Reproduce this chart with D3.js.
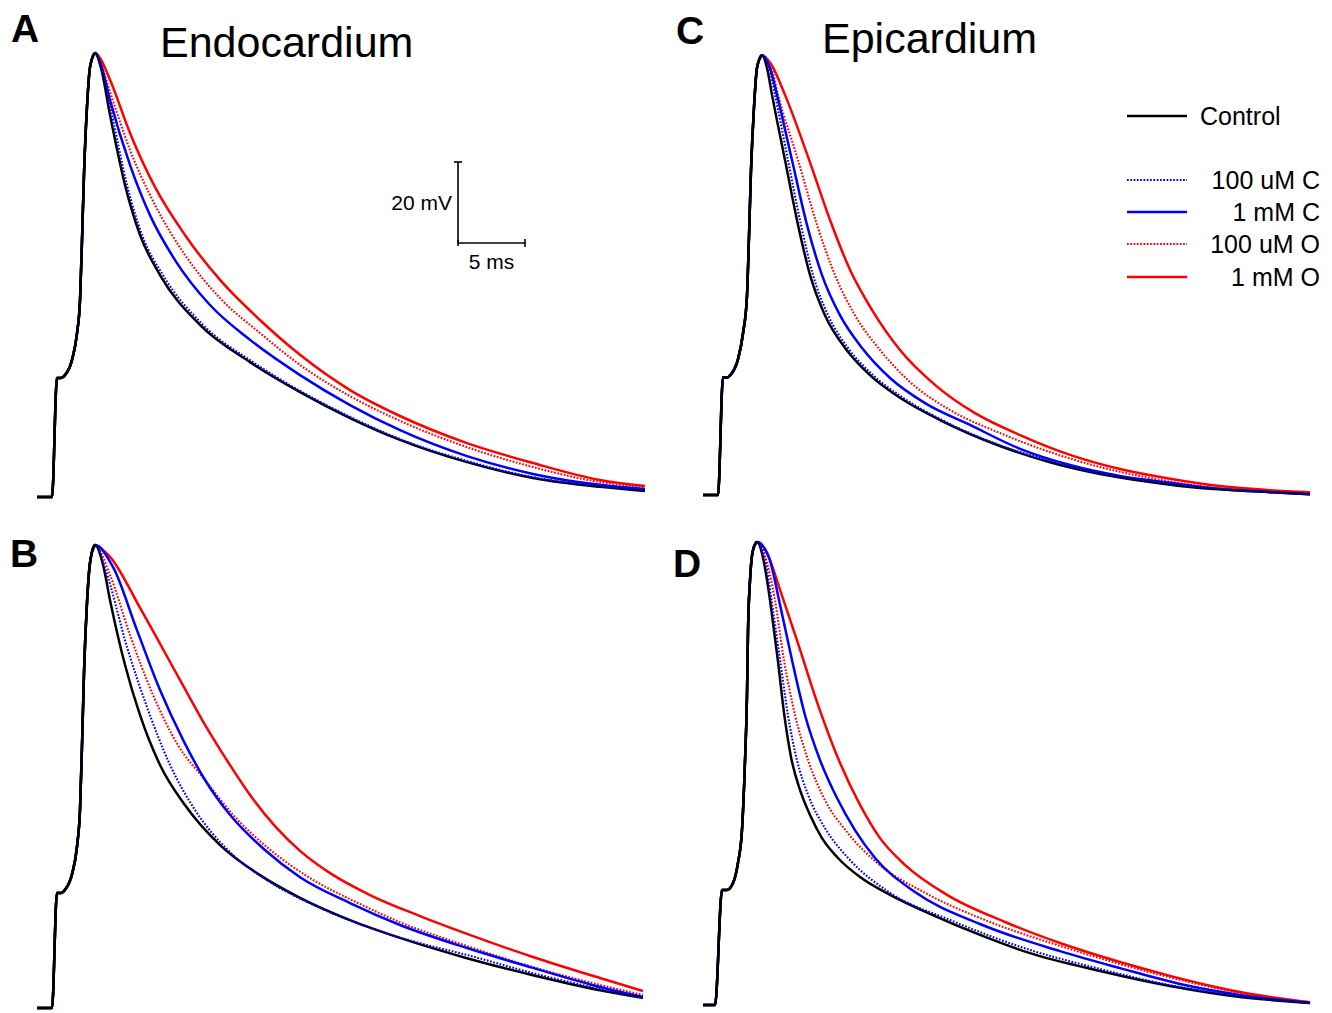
<!DOCTYPE html>
<html>
<head>
<meta charset="utf-8">
<script src="https://cdn.jsdelivr.net/npm/d3@7"></script>
<style>
  body { margin: 0; background: #fff; }
  text { font-family: "Liberation Sans", Arial, sans-serif; fill: #000; }
</style>
</head>
<body>
<svg id="chart"></svg>
<script>
// traces are [time (ms), membrane potential (mV)]
// upstroke is shared by all traces of a panel
const upA = [[0,-85],[1.12,-85],[1.49,-55.6],[1.79,-55.6],[2.09,-54.9],[2.61,-51.2],[2.99,-44.5],[3.21,-36.4],[3.36,-21.5],[3.51,-5.0],[3.73,11.3],[3.96,21.2],[4.33,24.6]];
const upB = [[0,-85],[1.12,-85],[1.49,-56.6],[1.79,-56.6],[2.09,-55.8],[2.61,-52],[2.99,-45],[3.21,-36],[3.36,-20],[3.51,-2],[3.73,15],[3.96,25],[4.33,29.3]];
const upC = [[0,-85],[1.12,-85],[1.49,-56],[1.79,-56],[2.09,-55.2],[2.61,-51.5],[2.99,-45],[3.28,-36],[3.43,-21.5],[3.58,-5],[3.81,11],[4.03,20.5],[4.40,23.6]];
const upD = [[0,-85],[0.9,-85],[1.42,-56.6],[1.79,-56.6],[2.24,-54.9],[2.61,-49.9],[2.91,-41.8],[3.13,-25.2],[3.28,-9.0],[3.36,7.6],[3.51,19.9],[3.73,27.3],[4.03,29.3]];

// A - endocardium
const aControl = [[4.78,20.9],[5.45,9.3],[6.57,-8.0],[7.69,-20.3],[9.18,-30.2],[12.16,-42.5],[15.90,-51.7],[19.63,-59.1],[23.36,-65.5],[27.09,-70.9],[32.09,-76.4],[37.01,-80.3],[42.01,-82.5],[45.37,-83.5]];
const aC100 = [[4.85,20.9],[5.60,9.3],[6.72,-8.0],[7.84,-20.3],[9.40,-30.2],[12.39,-42.5],[16.12,-51.7],[19.63,-58.8],[23.36,-65.2],[27.09,-70.7],[32.09,-76.1],[37.01,-80.1],[42.01,-82.3],[45.37,-83.3]];
const aC1 = [[4.78,21.7],[5.45,13.0],[6.94,-3.0],[8.43,-15.4],[10.30,-26.5],[12.91,-37.6],[15.90,-46.2],[19.63,-54.9],[23.36,-62.3],[27.09,-68.5],[32.09,-74.9],[37.01,-79.3],[42.01,-82.0],[45.37,-83.0]];
const aO100 = [[4.70,22.4],[5.45,15.0],[6.94,0.7],[8.81,-12.9],[11.04,-25.2],[13.66,-35.9],[16.64,-44.5],[19.63,-52.4],[23.36,-60.1],[27.09,-66.2],[32.09,-72.7],[37.01,-77.6],[42.01,-81.3],[45.37,-82.5]];
const aO1 = [[4.70,23.4],[5.45,18.0],[6.94,4.9],[8.81,-8.5],[11.04,-20.3],[13.66,-31.4],[16.64,-41.3],[19.63,-49.9],[23.36,-58.6],[27.09,-65.0],[32.09,-71.7],[37.01,-76.6],[42.01,-80.8],[45.37,-82.3]];

// B
const bControl = [[4.93,24.4],[5.45,15.7],[6.57,-0.3],[7.69,-12.7],[9.18,-25.0],[11.04,-34.9],[13.66,-44.8],[16.64,-52.2],[19.63,-57.8],[23.36,-63.3],[27.09,-67.7],[32.09,-72.7],[37.01,-76.9],[42.01,-80.6],[45.22,-82.5]];
const bC100 = [[5.07,23.6],[6.72,4.1],[8.21,-10.7],[9.93,-25.0],[11.79,-36.1],[14.40,-46.5],[17.39,-53.9],[21.12,-60.3],[24.85,-65.2],[28.58,-69.0],[32.09,-71.9],[37.01,-76.4],[42.01,-80.3],[45.22,-82.5]];
const bC1 = [[5.67,23.9],[7.46,8.3],[9.18,-6.5],[10.90,-18.8],[12.54,-28.7],[14.40,-37.3],[17.01,-46.0],[19.63,-52.7],[23.36,-59.1],[27.09,-64.5],[32.09,-70.2],[37.01,-75.1],[42.01,-79.8],[45.22,-82.3]];
const bO100 = [[5.45,21.9],[6.94,7.1],[8.66,-7.7],[10.52,-20.1],[12.54,-28.7],[14.63,-37.3],[17.24,-45.5],[20.37,-52.9],[24.10,-59.3],[27.09,-63.8],[32.09,-69.7],[37.01,-74.9],[42.01,-79.3],[45.22,-81.8]];
const bO1 = [[4.85,28.3],[5.45,26.4],[7.69,13.8],[10.67,-4.0],[12.54,-15.1],[14.40,-25.0],[15.90,-32.4],[17.76,-40.1],[19.63,-46.2],[21.87,-51.7],[24.85,-57.1],[28.58,-62.3],[32.09,-66.7],[37.01,-72.4],[42.01,-77.6],[45.22,-80.8]];

// C - epicardium
const cControl = [[4.78,20.4],[5.15,13.8],[6.12,-2.3],[7.09,-18.3],[7.99,-30.7],[9.10,-40.6],[10.60,-48.7],[12.46,-55.4],[14.70,-61.0],[17.69,-66.5],[22.16,-72.9],[25.90,-76.9],[29.63,-79.8],[33.36,-81.8],[37.09,-83.3],[40.82,-84.0],[45.30,-84.8]];
const cC100 = [[4.93,20.4],[5.37,13.8],[6.34,-2.3],[7.31,-18.3],[8.21,-30.7],[9.33,-40.6],[10.82,-48.7],[12.69,-55.4],[14.93,-61.0],[17.84,-66.5],[22.16,-72.7],[25.90,-76.6],[29.63,-79.6],[33.36,-81.5],[37.09,-83.0],[40.82,-84.0],[45.30,-84.8]];
const cC1 = [[5.00,20.4],[5.52,13.8],[6.64,-2.3],[7.76,-18.3],[8.88,-30.7],[10.22,-40.6],[11.87,-48.7],[13.96,-56.1],[16.57,-62.3],[19.93,-67.7],[23.66,-73.6],[27.39,-77.6],[31.12,-80.3],[34.85,-82.0],[38.58,-83.5],[42.31,-84.3],[45.30,-84.8]];
const cO100 = [[5.07,20.9],[5.60,13.8],[7.09,-2.3],[8.51,-18.3],[9.85,-30.7],[11.34,-40.6],[13.21,-49.2],[15.45,-57.1],[18.43,-64.0],[22.16,-69.7],[25.90,-74.4],[29.63,-78.1],[33.36,-80.8],[37.09,-82.8],[40.82,-83.8],[45.30,-84.5]];
const cO1 = [[5.07,21.4],[6.12,13.8],[7.84,-1.5],[9.48,-17.1],[10.97,-29.4],[12.61,-39.3],[14.70,-49.2],[17.31,-57.8],[20.30,-64.8],[23.66,-70.2],[27.39,-75.1],[31.12,-78.6],[34.85,-81.0],[38.58,-82.8],[42.31,-83.8],[45.30,-84.3]];

// D
const dControl = [[4.48,25.4],[4.78,19.9],[5.15,11.3],[5.60,-0.3],[6.04,-12.7],[6.57,-23.8],[7.24,-31.9],[7.99,-38.1],[8.88,-43.8],[10.07,-48.7],[11.72,-53.4],[13.96,-57.8],[16.94,-62.5],[20.67,-67.7],[24.40,-72.2],[29.63,-76.6],[34.85,-80.3],[40.07,-83.0],[45.30,-84.5]];
const dC100 = [[4.63,24.9],[5.22,12.5],[5.75,0.2],[6.34,-13.4],[7.01,-24.5],[7.84,-33.1],[9.10,-41.3],[10.97,-49.2],[13.96,-57.3],[18.43,-64.0],[24.40,-71.4],[29.63,-76.1],[34.85,-80.1],[40.07,-82.8],[45.30,-84.5]];
const dC1 = [[4.93,25.4],[5.75,13.8],[6.64,0.2],[7.61,-13.4],[8.73,-24.5],[10.00,-33.9],[11.34,-41.8],[12.84,-48.7],[15.82,-57.1],[20.67,-65.0],[26.64,-71.7],[31.12,-75.9],[35.60,-79.8],[40.07,-82.5],[45.30,-84.5]];
const dO100 = [[4.63,25.9],[5.37,15.0],[6.04,0.2],[6.87,-13.4],[7.84,-24.5],[9.10,-34.4],[10.75,-42.3],[12.99,-49.9],[16.57,-57.3],[21.42,-64.5],[26.64,-70.4],[31.12,-74.9],[35.60,-78.8],[40.07,-82.0],[45.30,-84.3]];
const dO1 = [[4.78,26.6],[5.75,17.5],[7.01,5.1],[8.51,-10.2],[10.22,-25.2],[11.72,-35.6],[13.21,-43.8],[15.07,-50.4],[18.21,-57.8],[22.54,-64.5],[26.64,-69.7],[31.12,-74.4],[34.85,-77.8],[40.07,-81.8],[45.30,-84.3]];

const legendLabels = ["Control", "100 uM C", "1 mM C", "100 uM O", "1 mM O"];
const scaleBarMs = 5;
const scaleBarMv = 20;

// styles per trace
const styles = {
    o1:      {color: "#ff0000", dash: null,      width: 2.5},
    o100:    {color: "#ff0000", dash: "1.7,1.6", width: 2.1},
    c1:      {color: "#0000ff", dash: null,      width: 2.5},
    c100:    {color: "#0000ff", dash: "1.7,1.6", width: 2.1},
    control: {color: "#000000", dash: null,      width: 2.5}
};
// bottom to top
const order = ["o1", "o100", "c1", "control", "c100"];

const panels = [
    {label: "A", ox: 37,  oy: 497,  lx: 11,  ly: 42,  up: upA, tr: {control: aControl, c100: aC100, c1: aC1, o100: aO100, o1: aO1}},
    {label: "B", ox: 37,  oy: 1008, lx: 10,  ly: 567, up: upB, tr: {control: bControl, c100: bC100, c1: bC1, o100: bO100, o1: bO1}},
    {label: "C", ox: 703, oy: 495,  lx: 676, ly: 44,  up: upC, tr: {control: cControl, c100: cC100, c1: cC1, o100: cO100, o1: cO1}},
    {label: "D", ox: 703, oy: 1005, lx: 673, ly: 577, up: upD, tr: {control: dControl, c100: dC100, c1: dC1, o100: dO100, o1: dO1}}
];

const width = 1332, height = 1013;
const svg = d3.select("#chart").attr("width", width).attr("height", height);
svg.append("rect").attr("width", width).attr("height", height).attr("fill", "#fff");

// 13.4 px per ms, 4.05 px per mV
const x = d3.scaleLinear().domain([0, 50]).range([0, 670]);
const y = d3.scaleLinear().domain([-85, 30]).range([0, -465.75]);

const line = d3.line()
    .x(d => x(d[0]))
    .y(d => y(d[1]))
    .curve(d3.curveMonotoneX);

panels.forEach(p => {
    const g = svg.append("g").attr("transform", "translate(" + p.ox + "," + p.oy + ")");
    order.forEach(k => {
        const s = styles[k];
        g.append("path")
            .datum(p.up.concat(p.tr[k]))
            .attr("d", line)
            .attr("fill", "none")
            .attr("stroke", s.color)
            .attr("stroke-width", s.width)
            .attr("stroke-dasharray", s.dash)
            .attr("stroke-linejoin", "round");
    });
    // the shared upstroke shows black on top
    g.append("path")
        .datum(p.up)
        .attr("d", line)
        .attr("fill", "none")
        .attr("stroke", "#000")
        .attr("stroke-width", 2.5);
    svg.append("text")
        .attr("x", p.lx).attr("y", p.ly)
        .attr("font-size", 39).attr("font-weight", "bold")
        .text(p.label);
});

// titles
svg.append("text").attr("x", 160).attr("y", 57).attr("font-size", 43).text("Endocardium");
svg.append("text").attr("x", 822).attr("y", 53).attr("font-size", 43).text("Epicardium");

// scale bar
const sb = svg.append("g").attr("transform", "translate(458,243)");
const sbw = x(scaleBarMs) - x(0), sbh = y(scaleBarMv - 85) - y(-85);
sb.append("line").attr("x1", 0).attr("y1", 0).attr("x2", sbw).attr("y2", 0);
sb.append("line").attr("x1", 0).attr("y1", 0).attr("x2", 0).attr("y2", sbh);
sb.append("line").attr("x1", -4).attr("y1", sbh).attr("x2", 4).attr("y2", sbh);
sb.append("line").attr("x1", sbw).attr("y1", -4).attr("x2", sbw).attr("y2", 4);
sb.append("line").attr("x1", 0).attr("y1", -3).attr("x2", 0).attr("y2", 3);
sb.selectAll("line").attr("stroke", "#000").attr("stroke-width", 1.6);
sb.append("text").attr("x", -6).attr("y", sbh / 2 + 7).attr("text-anchor", "end")
    .attr("font-size", 21).text(scaleBarMv + " mV");
sb.append("text").attr("x", sbw / 2).attr("y", 26).attr("text-anchor", "middle")
    .attr("font-size", 21).text(scaleBarMs + " ms");

// legend
const legendKeys = ["control", "c100", "c1", "o100", "o1"];
const legendY = [116, 180, 212, 244, 277];
const lg = svg.append("g");
legendKeys.forEach((k, i) => {
    const s = styles[k];
    lg.append("line")
        .attr("x1", 1127).attr("x2", 1187)
        .attr("y1", legendY[i]).attr("y2", legendY[i])
        .attr("stroke", s.color).attr("stroke-width", s.width)
        .attr("stroke-dasharray", s.dash);
    const t = lg.append("text")
        .attr("y", legendY[i] + 9)
        .attr("font-size", 25)
        .text(legendLabels[i]);
    if (i === 0) t.attr("x", 1200);
    else t.attr("x", 1320).attr("text-anchor", "end");
});
</script>
</body>
</html>
